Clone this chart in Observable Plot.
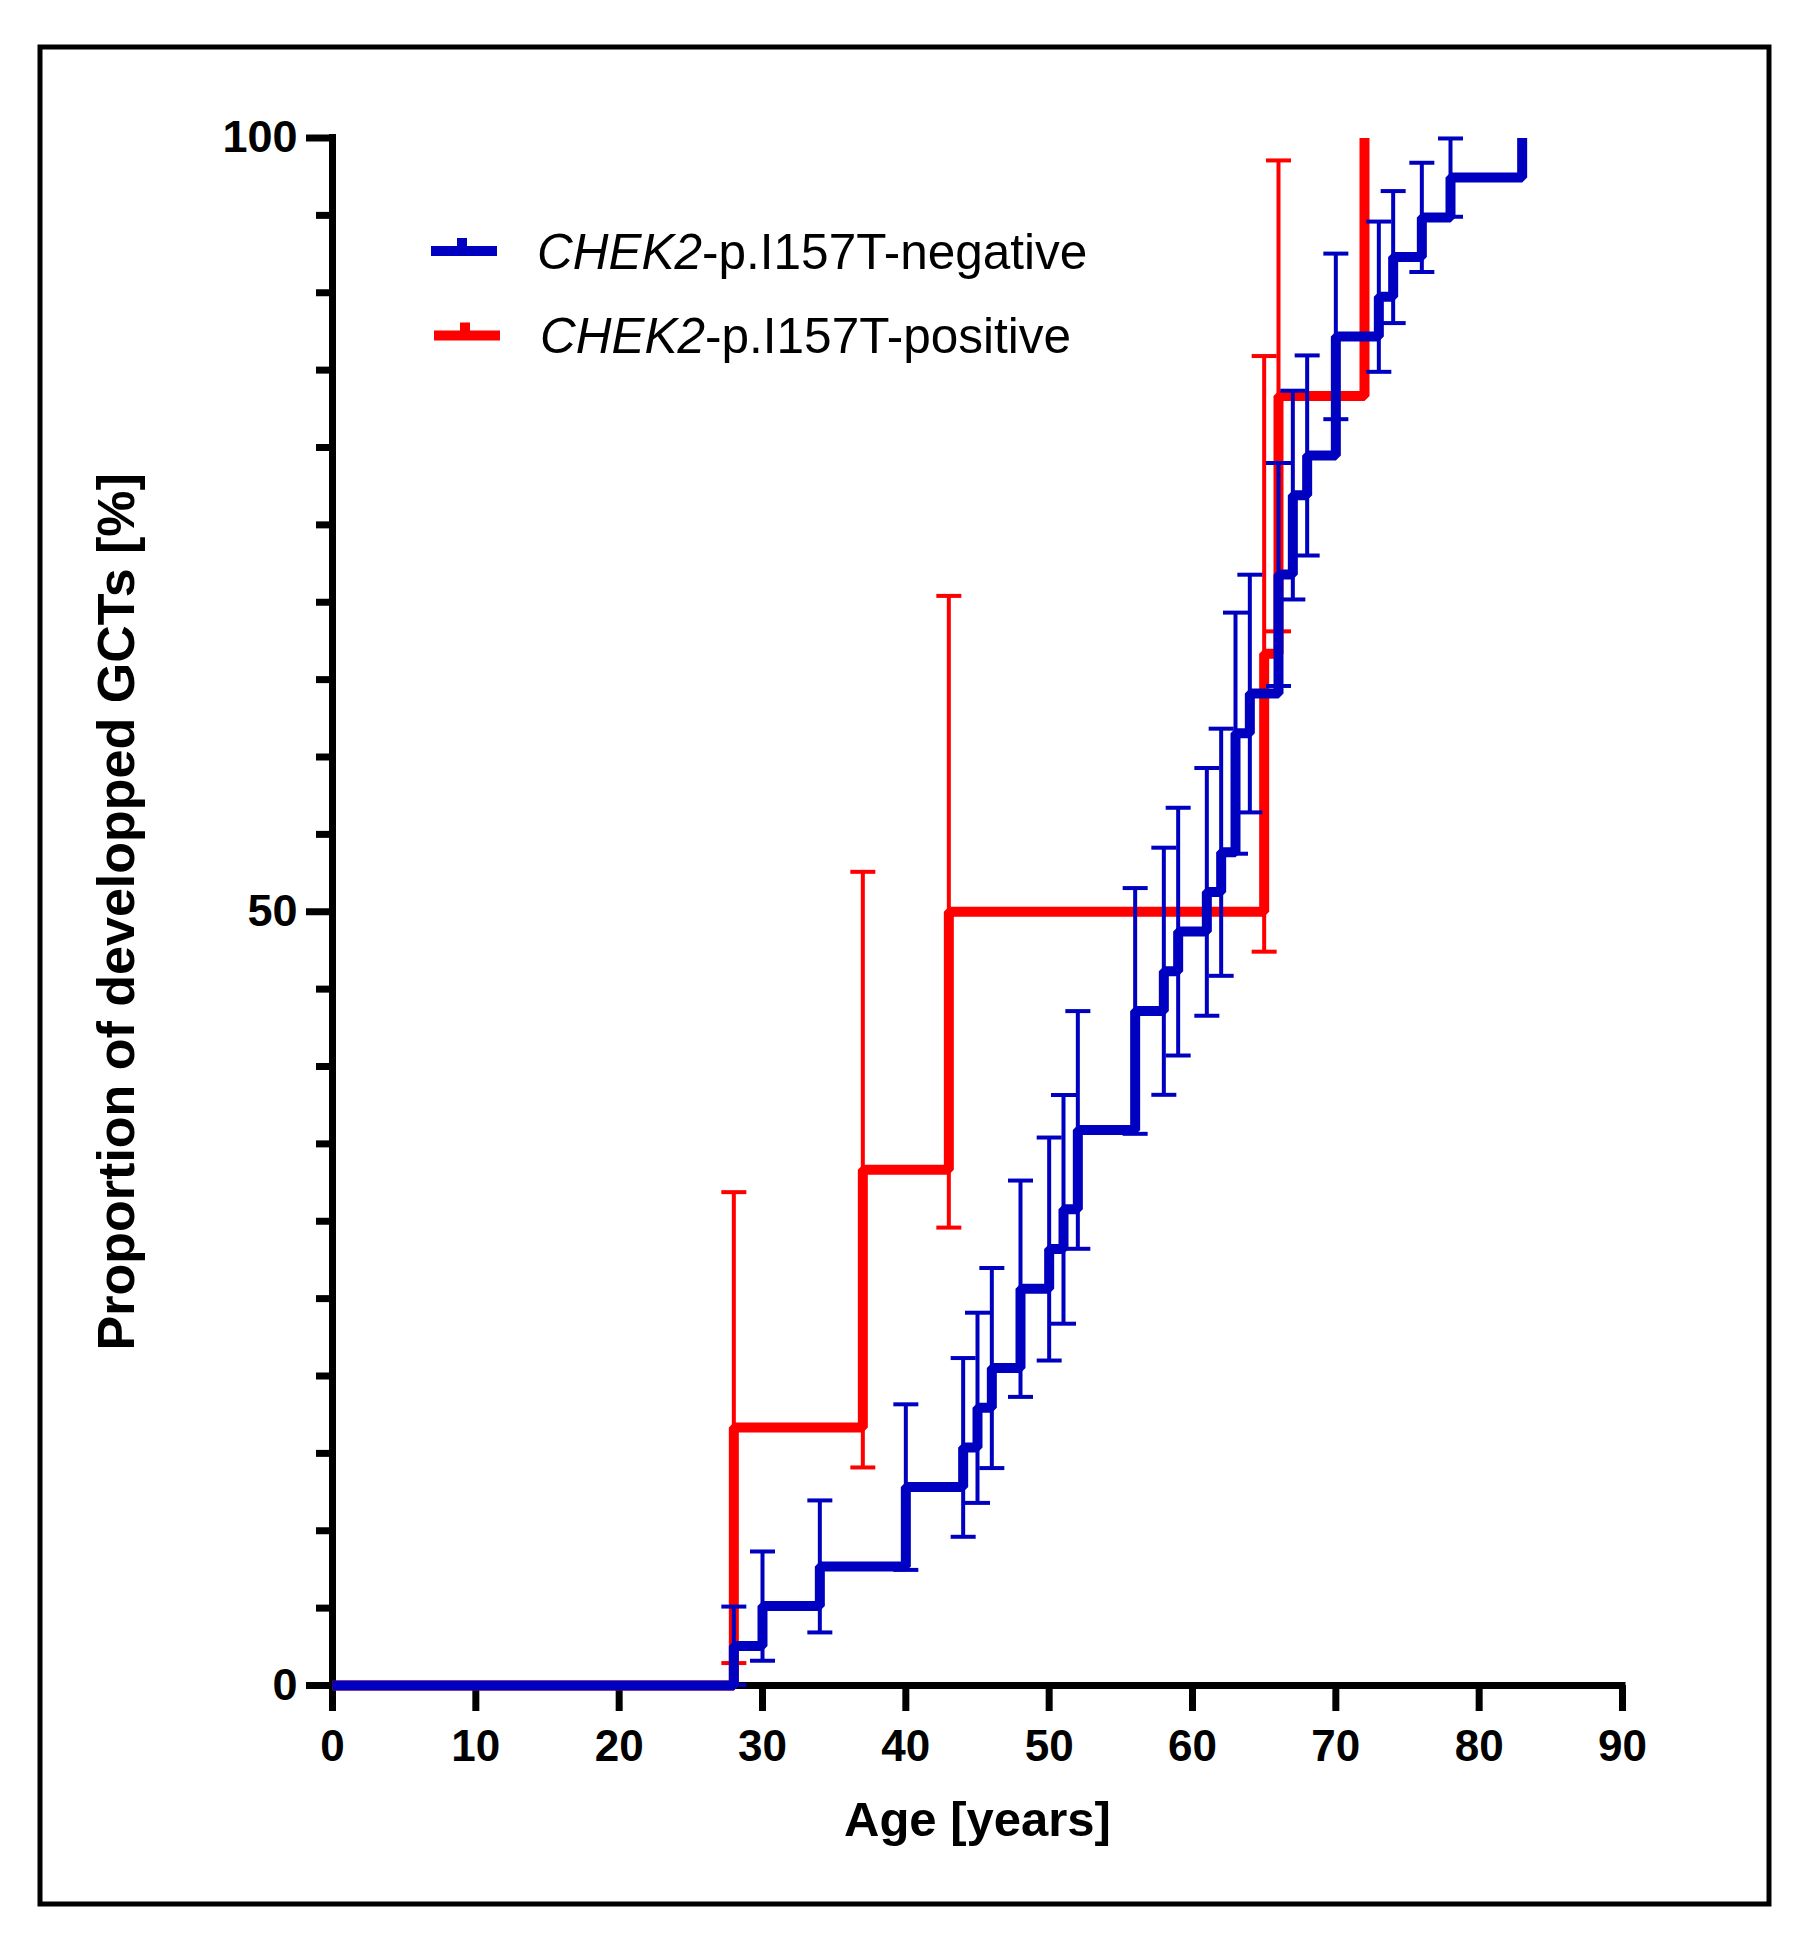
<!DOCTYPE html>
<html>
<head>
<meta charset="utf-8">
<script src="https://cdn.jsdelivr.net/npm/d3@7"></script>
<script src="https://cdn.jsdelivr.net/npm/@observablehq/plot@0.6"></script>
<style>
  html, body { margin: 0; padding: 0; background: white; }
  #wrap { position: relative; width: 1808px; height: 1939px; }
  #wrap > * { position: absolute; left: 0; top: 0; }
</style>
</head>
<body>
<div id="wrap"></div>
<script>
// ---- data ----
const BLUE = "#0000C0";
const RED = "#FF0000";

// CHEK2-p.I157T-negative (cumulative %)
const ageNeg = [0, 28, 30, 34, 40, 44, 45, 46, 48, 50, 51, 52, 56, 58, 59, 61, 62, 63, 64, 66, 67, 68, 70, 73, 74, 76, 78, 83];
const pctNeg = [0, 2.56, 5.13, 7.69, 12.82, 15.38, 17.95, 20.51, 25.64, 28.21, 30.77, 35.90, 43.59, 46.15, 48.72, 51.28, 53.85, 61.54, 64.10, 71.79, 76.92, 79.49, 87.18, 89.74, 92.31, 94.87, 97.44, 100];
const errAgeNeg = [28, 30, 34, 40, 44, 45, 46, 48, 50, 51, 52, 56, 58, 59, 61, 62, 63, 64, 66, 67, 68, 70, 73, 74, 76, 78];
const lowNeg = [0.03, 1.60, 3.43, 7.47, 9.61, 11.80, 14.05, 18.65, 21.00, 23.38, 28.22, 35.65, 38.17, 40.71, 43.28, 45.86, 53.75, 56.42, 64.59, 70.18, 73.02, 81.83, 84.89, 88.04, 91.34, 94.91];
const highNeg = [5.10, 8.66, 11.96, 18.17, 21.16, 24.09, 26.98, 32.63, 35.41, 38.16, 43.58, 51.53, 54.14, 56.72, 59.29, 61.83, 69.33, 71.78, 79.00, 83.67, 85.95, 92.53, 94.60, 96.57, 98.40, 99.97];

// CHEK2-p.I157T-positive (cumulative %)
const agePos = [0, 28, 37, 43, 65, 66, 72];
const pctPos = [0, 16.67, 33.33, 50, 66.67, 83.33, 100];
const errAgePos = [28, 37, 43, 65, 66];
const lowPos = [1.45, 14.09, 29.59, 47.42, 68.12];
const highPos = [31.88, 52.58, 70.41, 85.91, 98.55];

// ticks & labels
const xTicks = [0, 10, 20, 30, 40, 50, 60, 70, 80, 90];
const yMajorTicks = [0, 50, 100];
const yMinorTicks = [5, 10, 15, 20, 25, 30, 35, 40, 45, 55, 60, 65, 70, 75, 80, 85, 90, 95];
const legendLabels = [
  {italic: "CHEK2", rest: "-p.I157T-negative", color: BLUE},
  {italic: "CHEK2", rest: "-p.I157T-positive", color: RED}
];
const xTitle = "Age [years]";
const yTitle = "Proportion of developped GCTs [%]";

// ---- build tables ----
const neg = ageNeg.map((a, i) => ({age: a, pct: pctNeg[i]}));
const pos = agePos.map((a, i) => ({age: a, pct: pctPos[i]}));
const errNeg = errAgeNeg.map((a, i) => ({age: a, lo: lowNeg[i], hi: highNeg[i]}));
const errPos = errAgePos.map((a, i) => ({age: a, lo: lowPos[i], hi: highPos[i]}));

const capSymbol = {
  draw(ctx) { ctx.moveTo(-12.5, 0); ctx.lineTo(12.5, 0); }
};

function errMarks(data, color) {
  return [
    Plot.ruleX(data, {x: "age", y1: "lo", y2: "hi", stroke: color, strokeWidth: 4}),
    Plot.dot(data, {x: "age", y: "lo", symbol: capSymbol, stroke: color, fill: "none", strokeWidth: 4}),
    Plot.dot(data, {x: "age", y: "hi", symbol: capSymbol, stroke: color, fill: "none", strokeWidth: 4})
  ];
}

const FONT = "Arial, 'Liberation Sans', sans-serif";

const chart = Plot.plot({
  width: 1808,
  height: 1939,
  marginLeft: 332,
  marginRight: 186,
  marginTop: 137.5,
  marginBottom: 254,
  style: {fontFamily: FONT, fontWeight: "bold", background: "transparent", color: "black"},
  x: {domain: [0, 90]},
  y: {domain: [0, 100]},
  marks: [
    Plot.axisX({ticks: xTicks, tickSize: 26, tickPadding: 18, strokeWidth: 7, fontSize: 44, label: null, tickFormat: d => String(d)}),
    Plot.axisY({ticks: yMajorTicks, tickSize: 26, tickPadding: 9, strokeWidth: 7, fontSize: 45, label: null, tickFormat: d => String(d)}),
    Plot.axisY({ticks: yMinorTicks, tickSize: 16, strokeWidth: 7, label: null, tickFormat: () => ""}),
    Plot.ruleX([0], {strokeWidth: 7, strokeLinecap: "square"}),
    Plot.ruleY([0], {strokeWidth: 7, strokeLinecap: "square"}),
    ...errMarks(errPos, RED),
    Plot.line(pos, {x: "age", y: "pct", curve: "step-after", stroke: RED, strokeWidth: 10, strokeLinejoin: "miter", strokeLinecap: "butt"}),
    ...errMarks(errNeg, BLUE),
    Plot.line(neg, {x: "age", y: "pct", curve: "step-after", stroke: BLUE, strokeWidth: 10, strokeLinejoin: "miter", strokeLinecap: "butt"}),
    Plot.text([xTitle], {frameAnchor: "bottom", textAnchor: "middle", lineAnchor: "middle", dy: 135, fontSize: 49, fontWeight: "bold"}),
    Plot.text([yTitle], {frameAnchor: "left", textAnchor: "middle", lineAnchor: "middle", rotate: -90, dx: -215, fontSize: 52, fontWeight: "bold"})
  ]
});

const wrap = document.getElementById("wrap");
wrap.appendChild(chart);

// ---- overlay: border and legend ----
const svg = d3.create("svg")
  .attr("width", 1808).attr("height", 1939)
  .style("pointer-events", "none");

svg.append("rect")
  .attr("x", 40).attr("y", 47).attr("width", 1729).attr("height", 1857)
  .attr("fill", "none").attr("stroke", "black").attr("stroke-width", 5);

const legendRows = [
  {y: 251, x0: 431, x1: 497, tx: 537, base: 269},
  {y: 335.5, x0: 434, x1: 500, tx: 540, base: 353}
];
legendLabels.forEach((d, i) => {
  const r = legendRows[i];
  const g = svg.append("g");
  g.append("line").attr("x1", r.x0).attr("x2", r.x1).attr("y1", r.y).attr("y2", r.y)
    .attr("stroke", d.color).attr("stroke-width", 10);
  const mx = (r.x0 + r.x1) / 2 - 2;
  g.append("line").attr("x1", mx).attr("x2", mx).attr("y1", r.y - 13).attr("y2", r.y)
    .attr("stroke", d.color).attr("stroke-width", 10);
  const t = g.append("text").attr("x", r.tx).attr("y", r.base)
    .attr("font-family", FONT)
    .attr("font-size", 49.5).attr("fill", "black");
  t.append("tspan").attr("font-style", "italic").text(d.italic);
  t.append("tspan").text(d.rest);
});

wrap.appendChild(svg.node());
</script>
</body>
</html>
